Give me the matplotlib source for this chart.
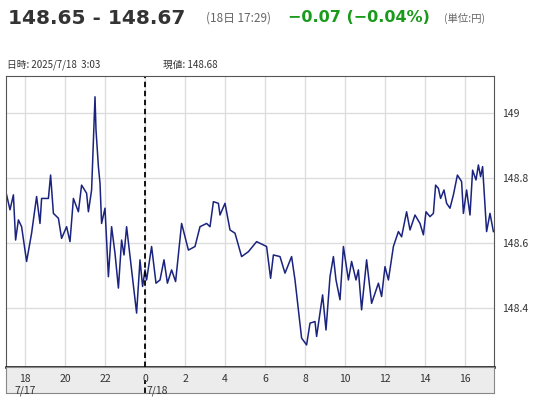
import matplotlib
matplotlib.use("Agg")
import matplotlib.pyplot as plt

plt.rcParams['font.family'] = ['Noto Sans CJK JP', 'DejaVu Sans']

hours = [-6.92,-6.75,-6.58,-6.47,-6.33,-6.17,-5.92,-5.67,-5.42,-5.25,-5.17,-4.83,-4.72,-4.58,-4.33,-4.17,-3.92,-3.75,-3.58,-3.33,-3.17,-2.92,-2.83,-2.67,-2.50,-2.45,-2.33,-2.25,-2.17,-2.00,-1.83,-1.67,-1.50,-1.33,-1.17,-1.05,-0.92,-0.75,-0.67,-0.42,-0.25,-0.12,0.0,0.08,0.33,0.55,0.75,0.95,1.12,1.33,1.53,1.83,2.17,2.50,2.75,3.08,3.25,3.42,3.67,3.75,4.00,4.25,4.50,4.83,5.17,5.58,5.92,6.08,6.28,6.42,6.75,7.0,7.33,7.5,7.67,7.83,8.08,8.25,8.5,8.58,8.75,8.88,9.05,9.25,9.42,9.55,9.75,9.92,10.17,10.33,10.55,10.67,10.83,11.08,11.33,11.67,11.83,12.0,12.17,12.42,12.67,12.83,13.08,13.25,13.5,13.75,13.92,14.05,14.25,14.42,14.53,14.67,14.78,14.95,15.08,15.25,15.42,15.62,15.83,15.92,16.08,16.25,16.38,16.55,16.67,16.78,16.88,17.08,17.25,17.42]
prices = [148.748,148.702,148.748,148.609,148.671,148.650,148.543,148.630,148.743,148.660,148.737,148.737,148.809,148.691,148.676,148.614,148.650,148.604,148.737,148.696,148.778,148.753,148.696,148.763,149.050,148.948,148.835,148.784,148.660,148.707,148.496,148.650,148.568,148.461,148.609,148.563,148.650,148.558,148.517,148.384,148.548,148.466,148.517,148.486,148.589,148.476,148.486,148.548,148.476,148.517,148.481,148.660,148.578,148.589,148.650,148.660,148.650,148.727,148.722,148.686,148.722,148.640,148.630,148.558,148.573,148.604,148.594,148.589,148.491,148.563,148.558,148.507,148.558,148.486,148.394,148.307,148.286,148.353,148.358,148.312,148.384,148.440,148.332,148.496,148.558,148.486,148.425,148.589,148.486,148.543,148.486,148.517,148.394,148.548,148.414,148.476,148.435,148.527,148.486,148.589,148.635,148.619,148.696,148.640,148.686,148.660,148.625,148.696,148.681,148.691,148.778,148.768,148.737,148.763,148.722,148.707,148.748,148.809,148.789,148.691,148.763,148.686,148.824,148.794,148.840,148.804,148.835,148.635,148.691,148.635]

xticks = list(range(-6, 17, 2))
xticklabels = ['18','20','22','0','2','4','6','8','10','12','14','16']
yticks = [148.4, 148.6, 148.8, 149.0]
yticklabels = ['148.4','148.6','148.8','149']

W, H = 553, 400
fig = plt.figure(figsize=(W/100, H/100), dpi=100)
x0, x1 = -6.95, 17.45
DJ = ['DejaVu Sans', 'Noto Sans CJK JP']

ax = fig.add_axes([6/W, (H-367)/H, 488/W, 291/H])
ax.plot(hours, prices, color='#1a237e', lw=1.1)
ax.set_xlim(x0, x1)
ax.set_ylim(148.218, 149.114)
ax.set_xticks(xticks)
ax.set_yticks(yticks)
ax.set_xticklabels([])
ax.yaxis.tick_right()
ax.set_yticklabels(yticklabels, fontsize=7.5, color='#333333')
ax.tick_params(axis='both', length=0, pad=6)
ax.grid(True, color='#dddddd', lw=1)
ax.axvline(0, color='black', ls=(0, (3, 2)), lw=1.3)
for s in ['left', 'top', 'right']:
    ax.spines[s].set_color('#555555')
    ax.spines[s].set_linewidth(0.8)
ax.spines['bottom'].set_color('black')
ax.spines['bottom'].set_linewidth(1.8)

bx = fig.add_axes([6/W, (H-393)/H, 488/W, 26/H])
bx.set_facecolor('#ececec')
bx.set_xlim(x0, x1)
bx.set_ylim(0, 1)
bx.set_yticks([])
bx.set_xticks([])
for s in bx.spines.values():
    s.set_color('#888888'); s.set_linewidth(0.8)
for t, l in zip(xticks, xticklabels):
    bx.text(t, 0.55, l, ha='center', va='center', fontsize=7.5, color='#333333')
bx.axvline(0, ymax=0.5, color='black', ls=(0, (3, 2)), lw=1.3)
bx.text(-6, 0.1, '7/17', ha='center', va='center', fontsize=7.5, color='#333333')
bx.text(0.05, 0.1, '7/18', ha='left', va='center', fontsize=7.5, color='#333333')

fig.text(8/W, 1-18/H, '148.65 - 148.67', fontsize=14.5, fontweight='bold', color='#333333', va='center', family=DJ)
fig.text(206/W, 1-18/H, '(18日 17:29)', fontsize=8.5, color='#666666', va='center')
fig.text(288/W, 1-18/H, '−0.07 (−0.04%)', fontsize=11.5, fontweight='bold', color='#1a9a1a', va='center', family=DJ)
fig.text(444/W, 1-18/H, '(単位:円)', fontsize=7.5, color='#666666', va='center')
fig.text(7/W, 1-65/H, '日時: 2025/7/18  3:03', fontsize=7, color='#333333', va='center')
fig.text(163/W, 1-65/H, '現値: 148.68', fontsize=7, color='#333333', va='center')

fig.savefig('out.png', dpi=100)
